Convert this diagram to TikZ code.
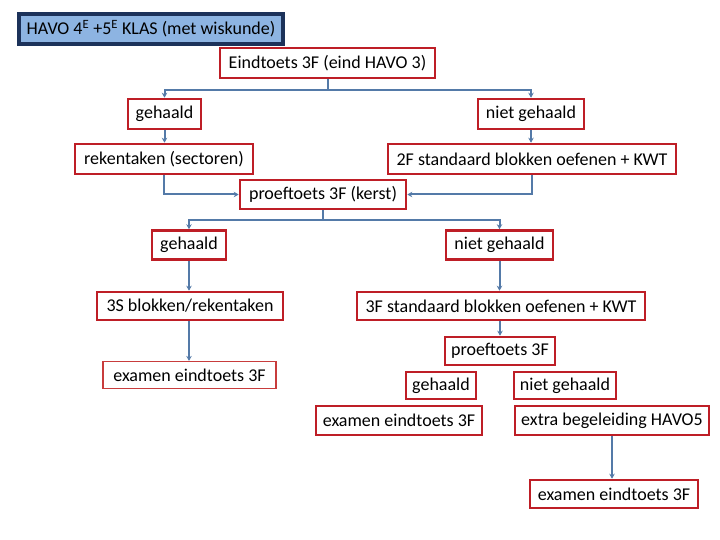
\documentclass[tikz,border=0pt]{standalone}
\usepackage{fontspec}
\setmainfont{Carlito}
\usetikzlibrary{arrows.meta}
\definecolor{boxred}{RGB}{190,30,38}
\definecolor{lightred}{RGB}{200,60,60}
\definecolor{conncol}{RGB}{84,122,168}
\definecolor{titlefill}{RGB}{141,180,226}
\definecolor{titleborder}{RGB}{28,50,90}
\tikzset{
  rbox/.style={draw=boxred, line width=2.6pt, fill=white, inner sep=0pt, align=center,
    font=\fontsize{18}{21}\selectfont},
  thinbox/.style={draw=lightred, line width=1.2pt, fill=white, inner sep=0pt, align=center,
    font=\fontsize{18}{21}\selectfont},
  titlebox/.style={draw=titleborder, line width=3.2pt, fill=titlefill, inner sep=0pt, align=center,
    font=\fontsize{18}{21}\selectfont},
  conn/.style={draw=conncol, line width=2pt, -{Stealth[length=5pt,width=5.5pt]}},
  plain/.style={draw=conncol, line width=2pt},
}
\newcommand{\bx}[6]{% name, style, cx, cy, w, h ; text after
  \node[#2, minimum width=#5pt, minimum height=#6pt] (#1) at (#3,#4)}
\begin{document}
\begin{tikzpicture}[x=1pt,y=-1pt]
\useasboundingbox[fill=white] (0,0) rectangle (720,540);
% nodes
\bx{title}{titlebox}{151}{29}{264}{30} {HAVO 4\textsuperscript{E} +5\textsuperscript{E} KLAS (met wiskunde)};
\bx{eind}{rbox}{327.5}{63}{215}{30} {Eindtoets 3F (eind HAVO 3)};
\bx{ga}{rbox}{164.5}{114}{73}{30} {gehaald};
\bx{nga}{rbox}{531}{114}{106}{30} {niet gehaald};
\bx{rek}{rbox}{164}{159}{178}{30} {rekentaken (sectoren)};
\bx{twoF}{rbox}{532}{159}{288}{30} {2F standaard blokken oefenen + KWT};
\bx{pk}{rbox}{323}{194.5}{166}{29} {proeftoets 3F (kerst)};
\bx{gb}{rbox}{189}{245}{74}{29} {gehaald};
\bx{ngb}{rbox}{499.5}{245}{107}{29} {niet gehaald};
\bx{sS}{rbox}{190}{306}{186}{28} {3S blokken/rekentaken};
\bx{thF}{rbox}{501}{306}{288}{28} {3F standaard blokken oefenen + KWT};
\bx{exL}{thinbox}{189.5}{375}{173}{27} {examen eindtoets 3F};
\bx{pt}{rbox}{500}{351}{110}{28} {proeftoets 3F};
\bx{gc}{rbox}{441}{385.5}{70}{27} {gehaald};
\bx{ngc}{rbox}{565}{385.5}{102}{27} {niet gehaald};
\bx{exM}{rbox}{399}{420.5}{166}{29} {examen eindtoets 3F};
\bx{extra}{rbox}{612}{420.5}{194}{29} {extra begeleiding HAVO5};
\bx{exR}{rbox}{614}{494}{168}{28} {examen eindtoets 3F};
% connectors
\coordinate (j1) at ([yshift=-11pt]eind.south);
\draw[plain] (eind.south) -- (j1);
\draw[conn] (j1) -| (ga.north);
\draw[conn] (j1) -| (nga.north);
\draw[conn] (ga.south) -- (ga.south |- rek.north);
\draw[conn] (nga.south) -- (nga.south |- twoF.north);
\draw[conn] (rek.south) |- (pk.west);
\draw[conn] (twoF.south) |- (pk.east);
\coordinate (j2) at ([yshift=-10pt]pk.south);
\draw[plain] (pk.south) -- (j2);
\draw[conn] (j2) -| (gb.north);
\draw[conn] (j2) -| (ngb.north);
\draw[conn] (gb.south) -- (gb.south |- sS.north);
\draw[conn] (ngb.south) -- (ngb.south |- thF.north);
\draw[conn] (gb.south |- sS.south) -- (gb.south |- exL.north);
\draw[conn] (pt.north |- thF.south) -- (pt.north);
\draw[conn] (extra.south) -- (extra.south |- exR.north);
\end{tikzpicture}
\end{document}
